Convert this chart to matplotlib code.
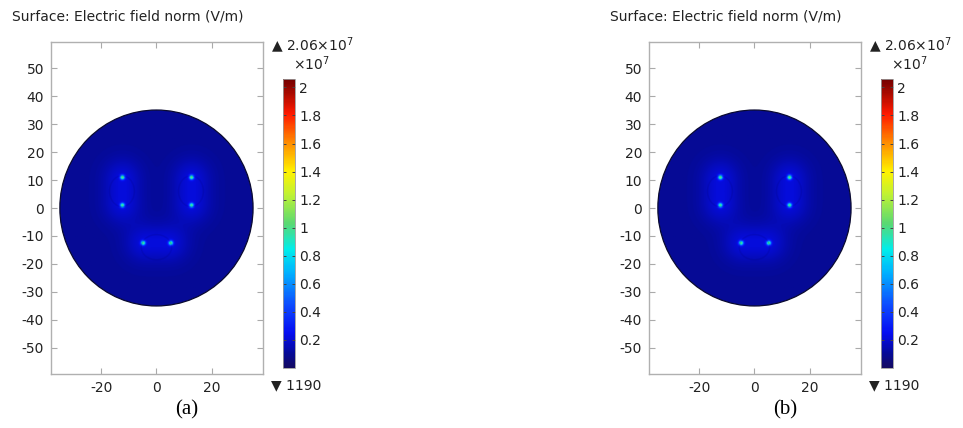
import numpy as np
import matplotlib
matplotlib.use("Agg")
import matplotlib.pyplot as plt
from matplotlib.colors import LinearSegmentedColormap
from matplotlib.patches import Circle, Ellipse

plt.rcParams["axes.unicode_minus"] = False

# ---------------- data ----------------
disc_radius = 35.0
field_min = 1190.0
field_max = 2.06e7
background_level = 1.0e6          # V/m, bulk of the disc
spot_x = [-12.5, -12.5, 12.5, 12.5, -5.0, 5.0]
spot_y = [11.0, 1.0, 11.0, 1.0, -12.5, -12.5]
spot_peak = [9.0e6, 8.5e6, 9.0e6, 8.5e6, 8.5e6, 8.5e6]
glow_peak = [1.0e6, 1.0e6, 1.0e6, 1.0e6, 1.0e6, 1.0e6]
electrode_x = [-12.5, 12.5, 0.0]
electrode_y = [6.0, 6.0, -14.0]
electrode_w = [9.0, 9.0, 11.0]
electrode_h = [11.0, 11.0, 9.0]
cbar_ticks = [0.2e7, 0.4e7, 0.6e7, 0.8e7, 1.0e7, 1.2e7, 1.4e7, 1.6e7, 1.8e7, 2.0e7]
cbar_labels = ["0.2", "0.4", "0.6", "0.8", "1", "1.2", "1.4", "1.6", "1.8", "2"]
x_ticks = [-20, 0, 20]
y_ticks = [-50, -40, -30, -20, -10, 0, 10, 20, 30, 40, 50]
panel_labels = ["(a)", "(b)"]
title_text = "Surface: Electric field norm (V/m)"

# COMSOL-like rainbow colormap
cmap = LinearSegmentedColormap.from_list("comsol_rainbow", [
    (0.00, (0.08, 0.04, 0.38)),
    (0.05, (0.02, 0.04, 0.60)),
    (0.12, (0.02, 0.05, 0.95)),
    (0.22, (0.05, 0.30, 1.00)),
    (0.33, (0.00, 0.70, 1.00)),
    (0.41, (0.00, 0.93, 0.92)),
    (0.50, (0.35, 0.85, 0.45)),
    (0.60, (0.75, 0.95, 0.20)),
    (0.68, (1.00, 0.95, 0.00)),
    (0.78, (1.00, 0.55, 0.00)),
    (0.88, (1.00, 0.10, 0.00)),
    (1.00, (0.45, 0.00, 0.00)),
])

# ---------------- field ----------------
n = 500
gx = np.linspace(-disc_radius, disc_radius, n)
gy = np.linspace(-disc_radius, disc_radius, n)
X, Y = np.meshgrid(gx, gy)
E = np.full_like(X, background_level)
for sx, sy, sp, gp in zip(spot_x, spot_y, spot_peak, glow_peak):
    r2 = (X - sx) ** 2 + (Y - sy) ** 2
    E += sp * np.exp(-r2 / 0.6) + gp * np.exp(-r2 / 45.0)
E = np.clip(E, field_min, field_max)

fig = plt.figure(figsize=(9.63, 4.28), dpi=100)
W, H = 963.0, 428.0

label_color = "#222222"
fs = 10

def panel(dx):
    ax = fig.add_axes([(51 + dx) / W, (H - 374) / H, 212 / W, 332 / H])
    im = ax.imshow(E, extent=[-disc_radius, disc_radius, -disc_radius, disc_radius],
                   origin="lower", cmap=cmap, vmin=field_min, vmax=field_max,
                   interpolation="bilinear")
    clip = Circle((0, 0), disc_radius, transform=ax.transData)
    im.set_clip_path(clip)
    ax.add_patch(Circle((0, 0), disc_radius, fill=False, ec="#0a0a30", lw=0.9))
    for ex, ey, ew, eh in zip(electrode_x, electrode_y, electrode_w, electrode_h):
        ax.add_patch(Ellipse((ex, ey), ew, eh, fill=False, ec="#000070", lw=1.0, alpha=0.15))
    ax.set_xlim(-38.2, 38.6)
    ax.set_ylim(-59.3, 59.3)
    ax.set_aspect("auto")
    ax.set_xticks(x_ticks)
    ax.set_yticks(y_ticks)
    ax.tick_params(direction="in", length=4, width=0.8, color="#aaaaaa",
                   top=True, right=True, labelsize=fs, labelcolor=label_color, pad=5)
    for s in ax.spines.values():
        s.set_color("#b0b0b0")
        s.set_linewidth(1.0)

    cax = fig.add_axes([(283 + dx) / W, (H - 368) / H, 12 / W, 289 / H])
    cb = fig.colorbar(im, cax=cax)
    cb.set_ticks(cbar_ticks)
    cb.set_ticklabels(cbar_labels)
    cax.tick_params(direction="in", length=2.5, width=0.7, color="#444444",
                    left=True, right=True, labelsize=fs, labelcolor=label_color, pad=3)
    cb.outline.set_edgecolor("#999999")
    cb.outline.set_linewidth(0.6)
    return ax

for i, dx in enumerate([0, 598]):
    panel(dx)
    fig.text((12 + dx) / W, 1 - 17 / H, title_text, fontsize=fs, color=label_color,
             ha="left", va="center")
    fig.text((271 + dx) / W, 1 - 46 / H, "\u25B2 2.06\u00d710$^{7}$", fontsize=fs,
             color=label_color, ha="left", va="center")
    fig.text((293 + dx) / W, 1 - 64 / H, "\u00d710$^{7}$", fontsize=fs,
             color=label_color, ha="left", va="center")
    fig.text((271 + dx) / W, 1 - 385 / H, "\u25BC 1190", fontsize=fs,
             color=label_color, ha="left", va="center")
    fig.text((187 + dx) / W, 1 - 410 / H, panel_labels[i], fontsize=15,
             family="Liberation Serif", color="black", ha="center", va="center")

fig.savefig("out.png", dpi=100)
